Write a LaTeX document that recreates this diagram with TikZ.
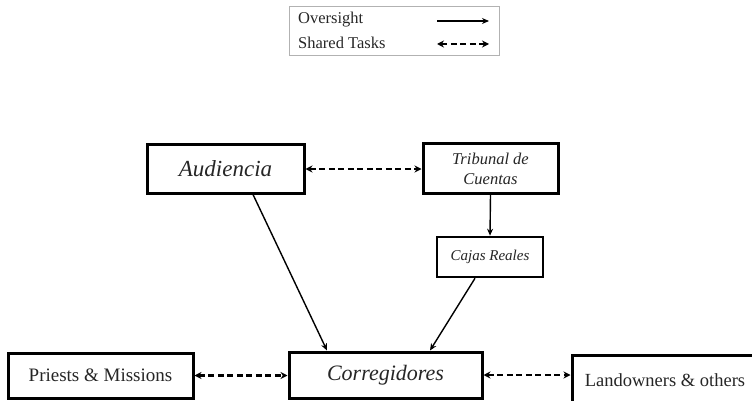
\documentclass[tikz,border=0pt]{standalone}
\usepackage{fontspec}
\setmainfont{Liberation Serif}
\usetikzlibrary{arrows.meta}
\tikzset{
  box/.style={draw=black, line width=3pt, fill=white, inner sep=0pt, align=center, text=black!85},
  smallbox/.style={box, line width=2.6pt},
  over/.style={line width=1.4pt, -{Stealth[length=7pt,width=6pt]}},
  shared/.style={line width=2.4pt, dash pattern=on 6pt off 3.5pt, {Stealth[length=7pt,width=7pt]}-{Stealth[length=7pt,width=7pt]}},
  legtext/.style={anchor=west, inner sep=0pt, text=black!85, font=\fontsize{16.5}{18}\selectfont},
}
\begin{document}
\begin{tikzpicture}[x=1pt,y=-1pt]
\clip (0,0) rectangle (752,401);
\useasboundingbox (0,0) rectangle (752,401);
% legend
\node[draw=black!30, line width=1pt, minimum width=210pt, minimum height=49pt, inner sep=0pt] (legend) at (394,31.5) {};
\node[legtext] (lo) at (298,20) {Oversight};
\node[legtext] (ls) at (298,43) {Shared Tasks};
\coordinate (loa) at (437,21);
\coordinate (lob) at (489,21);
\coordinate (lsa) at (437,44);
\coordinate (lsb) at (489,44);
\draw[over] (loa) -- (lob);
\draw[shared] (lsa) -- (lsb);
% boxes
\node[box, minimum width=157pt, minimum height=48pt, font=\fontsize{23}{25}\selectfont\itshape] (aud) at (225.5,169) {Audiencia};
\node[box, minimum width=135pt, minimum height=49pt, font=\fontsize{16.5}{20}\selectfont\itshape] (trib) at (490.5,168.5) {Tribunal de\\Cuentas};
\node[smallbox, minimum width=106pt, minimum height=40pt, font=\fontsize{15}{17}\selectfont\itshape] (caja) at (490,257) {Cajas Reales};
\node[box, minimum width=193pt, minimum height=46pt, font=\fontsize{22}{24}\selectfont\itshape] (corr) at (385.5,375) {Corregidores};
\node[box, minimum width=185pt, minimum height=45pt, font=\fontsize{19}{21}\selectfont] (priests) at (100.5,375.5) {Priests \& Missions};
\node[box, minimum width=200pt, minimum height=50pt, font=\fontsize{18.5}{20}\selectfont] (land) at (672,380) {\hspace*{-14pt}Landowners \& others};
% connectors
\draw[over] ([xshift=27.5pt]aud.south) -- ([xshift=-58.5pt]corr.north);
\draw[over] ([xshift=-15pt]caja.south) -- ([xshift=44.5pt]corr.north);
\draw[over] (trib.south) -- (caja.north);
\draw[shared] (aud.east) -- (aud.east -| trib.west);
\draw[shared] (priests.east) -- (priests.east -| corr.west);
\draw[shared] (corr.east) -- (corr.east -| land.west);
\end{tikzpicture}
\end{document}
